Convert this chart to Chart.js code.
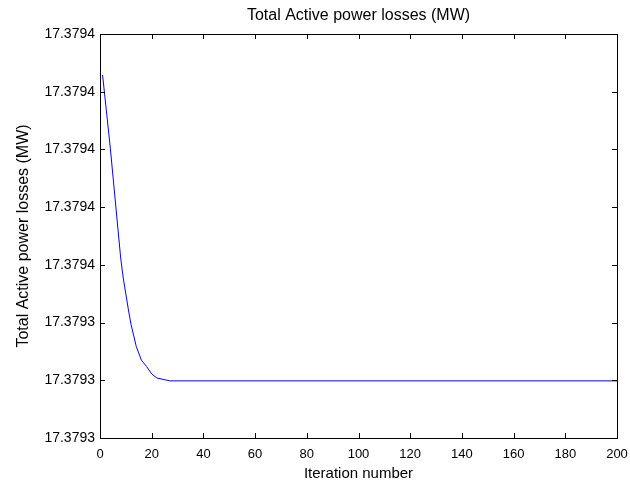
<!DOCTYPE html>
<html>
<head>
<meta charset="utf-8">
<script src="https://cdn.jsdelivr.net/npm/chart.js@4"></script>
<style>
  html, body { margin: 0; padding: 0; background: #ffffff; }
  #wrap { width: 630px; height: 486px; }
</style>
</head>
<body>
<div id="wrap"><canvas id="c" width="630" height="486"></canvas></div>
<script>
// ---- data ----
const iterations = [1, 4, 8, 9, 11, 12, 14, 16, 18, 20, 22, 27, 200];
const lossesMW = [17.3793829, 17.3793702, 17.3793512, 17.3793477, 17.3793422, 17.3793397,
                  17.3793359, 17.3793335, 17.3793324, 17.3793311, 17.3793304, 17.3793299, 17.3793299];
const yTickValues = [17.37932, 17.37933, 17.37934, 17.37935, 17.37936, 17.37937, 17.37938, 17.37939];
const yTickLabels = ['17.3793', '17.3793', '17.3793', '17.3794', '17.3794', '17.3794', '17.3794', '17.3794'];
const xTickValues = [0, 20, 40, 60, 80, 100, 120, 140, 160, 180, 200];
const chartTitle = 'Total Active power losses (MW)';

const FONT = "'Liberation Sans', Arial, Helvetica, sans-serif";

const boxAndTicks = {
  id: 'boxAndTicks',
  afterDatasetsDraw(chart) {
    const {ctx, chartArea: a, scales: {x, y}} = chart;
    const L = 5;
    ctx.save();
    ctx.strokeStyle = '#000';
    ctx.lineWidth = 1;
    ctx.beginPath();
    x.ticks.forEach(t => {
      const px = Math.round(x.getPixelForValue(t.value)) + 0.5;
      ctx.moveTo(px, a.bottom); ctx.lineTo(px, a.bottom - L);
      ctx.moveTo(px, a.top); ctx.lineTo(px, a.top + L);
    });
    y.ticks.forEach(t => {
      const py = Math.round(y.getPixelForValue(t.value)) + 0.5;
      ctx.moveTo(a.left, py); ctx.lineTo(a.left + L, py);
      ctx.moveTo(a.right, py); ctx.lineTo(a.right - L, py);
    });
    ctx.stroke();
    ctx.strokeRect(Math.round(a.left) + 0.5, Math.round(a.top) + 0.5,
                   Math.round(a.right - a.left), Math.round(a.bottom - a.top));
    // title centred over the plot area
    ctx.fillStyle = '#000';
    ctx.font = '16px ' + FONT;
    ctx.textAlign = 'center';
    ctx.textBaseline = 'middle';
    ctx.fillText(chartTitle, (a.left + a.right) / 2, 16);
    ctx.restore();
  }
};

new Chart(document.getElementById('c'), {
  type: 'line',
  data: {
    datasets: [{
      data: iterations.map((it, i) => ({x: it, y: lossesMW[i]})),
      borderColor: '#0000ff',
      borderWidth: 1,
      pointRadius: 0,
      tension: 0,
      fill: false
    }]
  },
  options: {
    responsive: false,
    animation: false,
    devicePixelRatio: 1,
    layout: { padding: { left: 0, right: 13, top: 34, bottom: 0 } },
    plugins: {
      legend: { display: false },
      tooltip: { enabled: false },
      title: { display: false }
    },
    scales: {
      x: {
        type: 'linear',
        min: 0, max: 200,
        grid: { display: false, drawTicks: false },
        border: { display: false },
        afterBuildTicks(scale) { scale.ticks = xTickValues.map(v => ({value: v})); },
        afterFit(scale) { scale.height = 48; scale.paddingLeft = 0; scale.paddingRight = 0; },
        ticks: {
          color: '#000',
          font: { family: FONT, size: 13 },
          padding: 9,
          maxRotation: 0,
          autoSkip: false
        },
        title: {
          display: true,
          text: 'Iteration number',
          color: '#000',
          font: { family: FONT, size: 15 },
          padding: { top: 0, bottom: 3 }
        }
      },
      y: {
        type: 'linear',
        min: yTickValues[0], max: yTickValues[yTickValues.length - 1],
        grid: { display: false, drawTicks: false },
        border: { display: false },
        afterBuildTicks(scale) { scale.ticks = yTickValues.map(v => ({value: v})); },
        afterFit(scale) { scale.width = 100; scale.paddingTop = 0; scale.paddingBottom = 0; },
        ticks: {
          color: '#000',
          font: { family: FONT, size: 14 },
          padding: 5,
          autoSkip: false,
          callback: (v, i) => yTickLabels[i]
        },
        title: {
          display: true,
          text: 'Total Active power losses (MW)',
          color: '#000',
          font: { family: FONT, size: 16 },
          padding: { top: 14, bottom: 0 }
        }
      }
    }
  },
  plugins: [boxAndTicks]
});
</script>
</body>
</html>
